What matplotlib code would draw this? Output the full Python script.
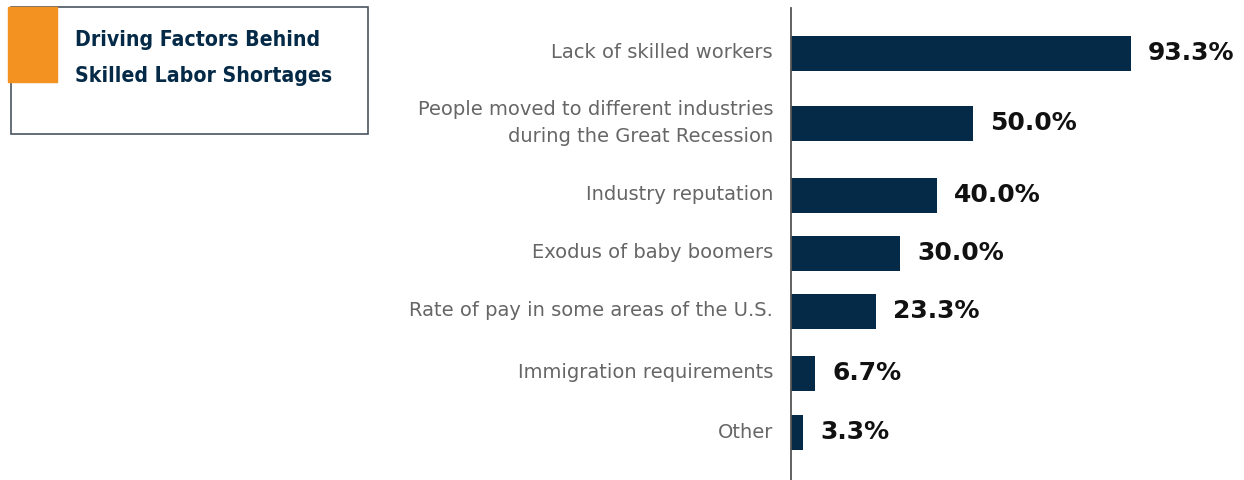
import matplotlib.pyplot as plt
from matplotlib.patches import Rectangle

# survey results
factors = [
    "Lack of skilled workers",
    "People moved to different industries\nduring the Great Recession",
    "Industry reputation",
    "Exodus of baby boomers",
    "Rate of pay in some areas of the U.S.",
    "Immigration requirements",
    "Other",
]
shares = [93.3, 50.0, 40.0, 30.0, 23.3, 6.7, 3.3]
title = "Driving Factors Behind\nSkilled Labor Shortages"

# row centres in pixel rows (top = 8, bottom = 480)
rows = [53, 123, 195, 253, 311, 373, 432]

NAVY = "#052a47"
ORANGE = "#f39220"
W, H = 1244, 480

fig = plt.figure(figsize=(W / 100, H / 100), dpi=100)

# bar area starts at the vertical axis line
ax_left = 791
ax = fig.add_axes([ax_left / W, 0, 1 - ax_left / W, 1 - 8 / H])
px_per_unit = 340 / 93.3
ax.set_xlim(0, (W - ax_left) / px_per_unit)
ax.set_ylim(H, 8)

ax.barh(rows, shares, height=35, color=NAVY)
for y, v, lab in zip(rows, shares, factors):
    ax.text(v + 17 / px_per_unit, y, f"{v:.1f}%", va="center", ha="left",
            fontsize=18, fontweight="bold", color="#111111")
    ax.text(-18 / px_per_unit, y, lab, va="center", ha="right",
            fontsize=14, color="#666666", linespacing=1.5,
            clip_on=False)

for s in ["top", "right", "bottom"]:
    ax.spines[s].set_visible(False)
ax.spines["left"].set_color("#555555")
ax.spines["left"].set_linewidth(1.3)
ax.set_xticks([])
ax.set_yticks([])

# title card in the upper left
card = fig.add_axes([0, 0, 1, 1], zorder=-1)
card.set_xlim(0, W)
card.set_ylim(H, 0)
card.axis("off")
card.add_patch(Rectangle((11, 7), 357, 127, fill=False,
                         edgecolor="#4a5560", linewidth=1.2))
card.add_patch(Rectangle((8, 7), 49, 75, color=ORANGE, zorder=3))
card.text(75, 58, title, ha="left", va="center", fontsize=15.2,
          fontweight="bold", color=NAVY, linespacing=1.95,
          fontstretch="condensed")

fig.savefig("out.png", dpi=100)
